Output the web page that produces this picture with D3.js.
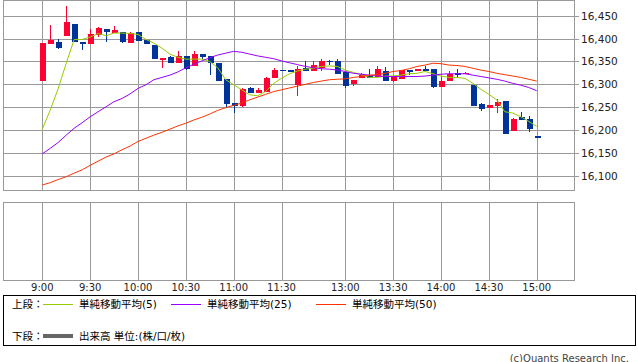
<!DOCTYPE html>
<html>
<head>
<meta charset="utf-8">
<script src="https://cdn.jsdelivr.net/npm/d3@7"></script>
<style>
body{margin:0;background:#fff;}
text{font-family:"DejaVu Sans","Noto Sans CJK JP",sans-serif;}
</style>
</head>
<body>
<div id="chart"></div>
<script>

// 5 minute candles, index 0 = 9:00 ... 62 = 15:00
const opens = [16308,16389,16392,16406,16432,16392,16387,16407,16421,16412,
               16414,16391,16414,16397,16386,16355,16360,16347,16362,16341,
               16366,16362,16346,16312,16259,16253,16292,16280,16283,16314,
               16332,16331,16299,16336,16328,16336,16351,16351,16327,16301,
               16314,16319,16316,16329,16308,16312,16332,16328,16333,16334,
               16294,16307,16324,16322,16299,16257,16248,16253,16264,16197,
               16229,16225,16187];
const highs = [16391,16430,16399,16471,16432,16392,16420,16426,16421,16427,
               16415,16414,16414,16397,16386,16358,16362,16373,16362,16373,
               16366,16362,16346,16312,16259,16291,16293,16291,16316,16336,
               16332,16331,16339,16351,16351,16355,16353,16355,16327,16310,
               16324,16333,16340,16338,16316,16332,16332,16334,16340,16334,
               16318,16330,16333,16327,16299,16259,16255,16267,16264,16227,
               16240,16231,16187];
const lows = [16308,16389,16378,16406,16393,16374,16387,16403,16393,16412,
              16391,16391,16395,16389,16356,16336,16347,16347,16331,16341,
              16355,16321,16308,16249,16238,16251,16280,16280,16283,16314,
              16330,16329,16275,16328,16328,16328,16342,16323,16291,16296,
              16314,16314,16316,16308,16304,16312,16321,16328,16329,16292,
              16294,16307,16317,16322,16253,16241,16248,16238,16192,16197,
              16221,16196,16186];
const closes = [16391,16397,16380,16436,16393,16387,16410,16423,16415,16419,
                16392,16411,16395,16389,16356,16357,16347,16362,16333,16366,
                16360,16346,16308,16258,16253,16290,16280,16288,16314,16331,
                16330,16329,16333,16328,16342,16351,16349,16323,16296,16310,
                16320,16314,16334,16308,16316,16332,16327,16334,16329,16294,
                16308,16323,16321,16325,16253,16247,16255,16262,16192,16225,
                16221,16203,16186];

const ma5 = [16202,16244,16291,16346,16398,16398,16403,16411,16406,16412,
             16412,16411,16409,16398,16390,16379,16366,16359,16355,16355,
             16355,16350,16336,16310,16299,16288,16277,16275,16284,16302,
             16313,16323,16329,16333,16335,16339,16340,16339,16331,16326,
             16321,16315,16315,16318,16318,16320,16323,16324,16328,16323,
             16318,16315,16315,16313,16302,16289,16278,16266,16240,16237,
             16229,16219,16208];
const ma25 = [16148,16160,16173,16189,16204,16216,16229,16240,16251,16262,
              16269,16279,16291,16299,16310,16315,16320,16327,16336,16344,
              16351,16358,16364,16368,16372,16370,16366,16362,16359,16356,
              16351,16347,16343,16339,16336,16334,16333,16331,16328,16324,
              16322,16320,16318,16317,16317,16317,16317,16317,16318,16320,
              16322,16323,16323,16323,16320,16317,16314,16311,16307,16302,
              16298,16293,16286];
const ma50 = [16080,16085,16092,16098,16106,16113,16123,16132,16141,16148,
              16157,16165,16175,16182,16189,16195,16202,16209,16215,16222,
              16228,16235,16243,16249,16254,16259,16266,16272,16278,16284,
              16288,16292,16296,16300,16304,16307,16310,16311,16312,16315,
              16317,16320,16321,16324,16328,16330,16334,16339,16342,16346,
              16345,16342,16341,16339,16335,16331,16328,16324,16321,16318,
              16315,16311,16307];

const timeLabels = ["9:00","9:30","10:00","10:30","11:00","11:30","13:00","13:30","14:00","14:30","15:00"];
const timeTickIdx = [0,6,12,18,24,30,38,44,50,56,62];
const priceTicks = [16100,16150,16200,16250,16300,16350,16400,16450];

const legendItems = [
    {name:"単純移動平均(5)", color:"#99cc00"},
    {name:"単純移動平均(25)", color:"#9900ff"},
    {name:"単純移動平均(50)", color:"#ff3300"}
];

const width = 638, height = 362;
const upColor = "#ff0033", downColor = "#003399", gridColor = "#999999";
const plot = {left:3, right:574, top:1, bottom:190};
const lower = {top:202, bottom:280};

let svg = d3.select("#chart").append("svg")
            .attr("width",width)
            .attr("height",height);

let candles = opens.map(function(o,i){
    return {i:i, o:o, h:highs[i], l:lows[i], c:closes[i]};
});

//#region Scales
let xScale = d3.scaleLinear()
                .domain([0,62])
                .range([42.3,536.7]);

let yScale = d3.scaleLinear()
                .domain([16069,16482])
                .range([plot.bottom,plot.top]);
//#endregion

const px = v => Math.round(v) + 0.5;

//#region grid
let grid = svg.append("g").attr("shape-rendering","crispEdges")
                .attr("stroke",gridColor).attr("fill","none");

grid.selectAll("line.h")
    .data(priceTicks)
    .join("line")
    .attr("class","h")
    .attr("x1",plot.left)
    .attr("x2",plot.right + 5)
    .attr("y1",d => px(yScale(d)))
    .attr("y2",d => px(yScale(d)));

grid.selectAll("line.v")
    .data(timeTickIdx)
    .join("line")
    .attr("class","v")
    .attr("x1",d => px(xScale(d)))
    .attr("x2",d => px(xScale(d)))
    .attr("y1",plot.top)
    .attr("y2",plot.bottom);

grid.selectAll("line.v2")
    .data(timeTickIdx)
    .join("line")
    .attr("class","v2")
    .attr("x1",d => px(xScale(d)))
    .attr("x2",d => px(xScale(d)))
    .attr("y1",lower.top)
    .attr("y2",lower.bottom);

grid.append("rect")
    .attr("x",plot.left + 0.5).attr("y",plot.top - 0.5)
    .attr("width",plot.right - plot.left).attr("height",plot.bottom - plot.top + 1);

grid.append("rect")
    .attr("x",plot.left + 0.5).attr("y",lower.top + 0.5)
    .attr("width",plot.right - plot.left).attr("height",lower.bottom - lower.top);
//#endregion

//#region candles
let cg = svg.append("g").attr("shape-rendering","crispEdges");

cg.selectAll("line.wick")
    .data(candles)
    .join("line")
    .attr("class","wick")
    .attr("x1",d => px(xScale(d.i)))
    .attr("x2",d => px(xScale(d.i)))
    .attr("y1",d => yScale(d.h))
    .attr("y2",d => yScale(d.l))
    .attr("stroke",d => d.c >= d.o ? upColor : downColor);

cg.selectAll("rect.body")
    .data(candles)
    .join("rect")
    .attr("class","body")
    .attr("x",d => Math.round(xScale(d.i)) - 2.5)
    .attr("y",d => yScale(Math.max(d.o,d.c)))
    .attr("width",6)
    .attr("height",d => Math.max(1.5, yScale(Math.min(d.o,d.c)) - yScale(Math.max(d.o,d.c))))
    .attr("fill",d => d.c >= d.o ? upColor : downColor);
//#endregion

//#region moving averages
let line = d3.line()
            .x((d,i) => xScale(i))
            .y(d => yScale(d));

svg.selectAll("path.ma")
    .data([{v:ma5,c:"#99cc00"},{v:ma25,c:"#9900ff"},{v:ma50,c:"#ff3300"}])
    .join("path")
    .attr("class","ma")
    .attr("d",d => line(d.v))
    .attr("fill","none")
    .attr("stroke",d => d.c)
    .attr("stroke-width",1);
//#endregion

//#region axis labels
svg.selectAll("text.price")
    .data(priceTicks)
    .join("text")
    .attr("class","price")
    .attr("x",581)
    .attr("y",d => yScale(d))
    .attr("dominant-baseline","central")
    .attr("font-size",10.5)
    .attr("fill","#222")
    .text(d => d3.format(",")(d));

svg.selectAll("text.time")
    .data(timeTickIdx)
    .join("text")
    .attr("class","time")
    .attr("x",d => xScale(d))
    .attr("y",291)
    .attr("text-anchor","middle")
    .attr("font-size",10)
    .attr("fill","#222")
    .text((d,i) => timeLabels[i]);
//#endregion

//#region legend
svg.append("rect")
    .attr("x",3.5).attr("y",295.5)
    .attr("width",632).attr("height",50)
    .attr("fill","none").attr("stroke","#000")
    .attr("shape-rendering","crispEdges");

svg.append("text").attr("x",12).attr("y",304).attr("font-size",10.5)
    .attr("dominant-baseline","central").text("上段：");

const legendX = [43,171,316];
svg.selectAll("line.leg")
    .data(legendItems)
    .join("line")
    .attr("class","leg")
    .attr("x1",(d,i) => legendX[i])
    .attr("x2",(d,i) => legendX[i] + 30)
    .attr("y1",304.5).attr("y2",304.5)
    .attr("stroke",d => d.color)
    .attr("shape-rendering","crispEdges");

svg.selectAll("text.leg")
    .data(legendItems)
    .join("text")
    .attr("class","leg")
    .attr("x",(d,i) => legendX[i] + 36)
    .attr("y",304)
    .attr("dominant-baseline","central")
    .attr("font-size",10.5)
    .text(d => d.name);

svg.append("text").attr("x",12).attr("y",336).attr("font-size",10.5)
    .attr("dominant-baseline","central").text("下段：");
svg.append("line").attr("x1",43).attr("x2",73).attr("y1",336).attr("y2",336)
    .attr("stroke","#666").attr("stroke-width",4);
svg.append("text").attr("x",79).attr("y",336).attr("font-size",10.5)
    .attr("dominant-baseline","central").text("出来高 単位:(株/口/枚)");

svg.append("text").attr("x",629).attr("y",358).attr("font-size",10)
    .attr("text-anchor","end").attr("dominant-baseline","central")
    .attr("fill","#444").text("(c)Quants Research Inc.");
//#endregion

</script>
</body>
</html>
